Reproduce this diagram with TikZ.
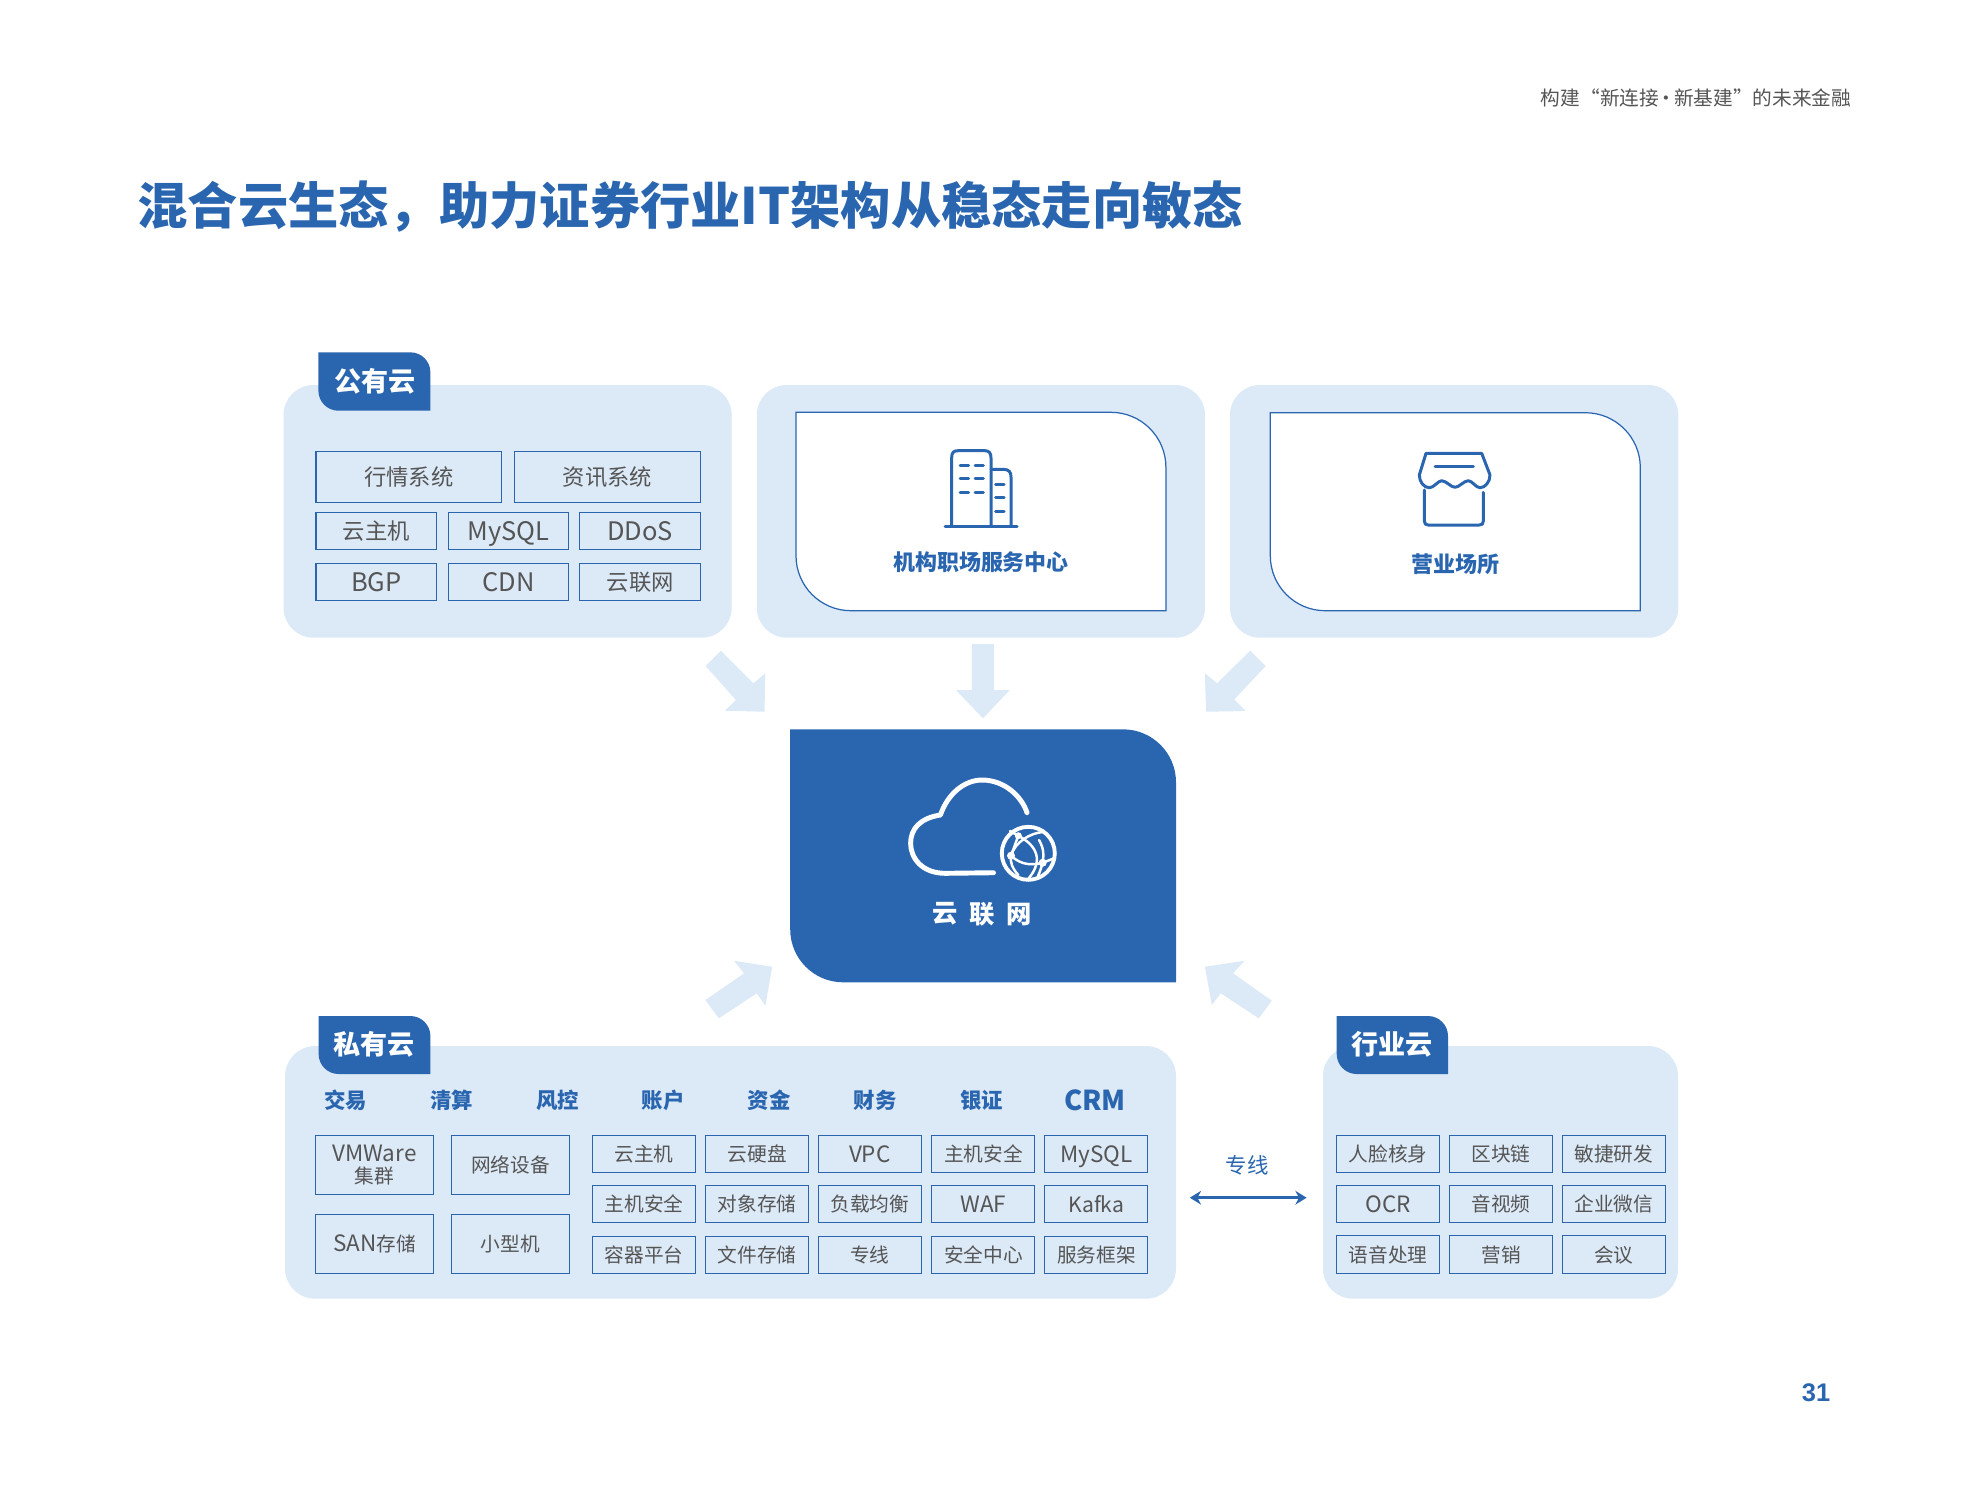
\documentclass[tikz,border=0pt]{standalone}
\usepackage{fontspec}
\setmainfont{Noto Sans CJK SC}
\newfontfamily\numfont{Liberation Sans}
\usetikzlibrary{arrows.meta}
\definecolor{cloudblue}{HTML}{2A66B0}
\definecolor{paleblue}{HTML}{DCE9F7}
\definecolor{cellgray}{HTML}{555555}
\tikzset{
  panel/.style={fill=paleblue,draw=none,rounded corners=0.3cm},
  blockarrow/.style={fill=paleblue,draw=none},
  tabshape/.style={fill=cloudblue,draw=none},
  cardshape/.style={fill=white,draw=cloudblue,line width=0.35pt},
  iconline/.style={draw=cloudblue,line width=0.85pt,line cap=round,line join=round},
  cloudline/.style={draw=white,line width=1.4pt,line cap=round,line join=round},
  globeline/.style={draw=white,line width=0.7pt,line cap=round},
  tabtext/.style={font=\bfseries\fontsize{7.7}{9}\selectfont,text=white,inner sep=0pt},
  cardtext/.style={font=\bfseries\fontsize{6.25}{8}\selectfont,text=cloudblue,inner sep=0pt},
  headtext/.style={font=\bfseries\fontsize{6.1}{8}\selectfont,text=cloudblue,inner sep=0pt},
  ccntext/.style={font=\bfseries\fontsize{7.2}{8}\selectfont,text=white,inner sep=0pt},
  cellbox/.style={draw=cloudblue,line width=0.32pt,inner sep=0pt,align=center,text=cellgray,
    font=\fontsize{5.6}{6.35}\selectfont,minimum height=0.374cm,minimum width=1.03cm,
    text height=4.93pt,text depth=0.67pt},
  celllatin/.style={cellbox,font=\fontsize{6.4}{7}\selectfont,text height=5.6pt,text depth=0.9pt},
  widebox/.style={cellbox,font=\fontsize{6.35}{7}\selectfont,minimum width=1.206cm,text height=5.59pt,text depth=0.76pt},
  widelatin/.style={widebox,font=\fontsize{7.25}{8}\selectfont,text height=6.4pt,text depth=1.1pt},
  bigbox/.style={cellbox,minimum width=1.184cm,minimum height=0.594cm},
}
\begin{document}
\begin{tikzpicture}[x=1cm,y=-1cm]
\useasboundingbox (0,0) rectangle (19.69,14.97);
\node[font=\fontsize{5.6}{7}\selectfont,text=cellgray,anchor=east,inner sep=0pt] (pagehead) at (18.52,0.98) {构建“新连接\hspace{-0.65pt}·\hspace{-0.65pt}新基建”的未来金融};
\node[font=\bfseries\fontsize{14.3}{17}\selectfont,text=cloudblue,anchor=west,inner sep=0pt] (pagetitle) at (1.37,2.07) {混合云生态\char"FF0C 助力证券行业IT架构从稳态走向敏态};
\node[font=\numfont\bfseries\fontsize{7.25}{9}\selectfont,text=cloudblue,inner sep=0pt] (pagenum) at (18.16,13.93) {31};

\fill[panel] (2.835,3.85) rectangle (7.317,6.377);
\fill[panel] (7.568,3.85) rectangle (12.05,6.377);
\fill[panel] (12.30,3.85) rectangle (16.783,6.377);
\fill[panel] (2.851,10.46) rectangle (11.76,12.987);
\fill[panel] (13.23,10.46) rectangle (16.78,12.987);

\fill[tabshape] (3.184,3.523) -- (4.104,3.523) arc[start angle=-90,end angle=0,radius=0.2] -- (4.304,4.107) -- (3.384,4.107) arc[start angle=90,end angle=180,radius=0.2] -- cycle;
\node[tabtext] (pubtab) at (3.747,3.81) {公有云};
\fill[tabshape] (3.186,10.16) -- (4.104,10.16) arc[start angle=-90,end angle=0,radius=0.2] -- (4.304,10.74) -- (3.386,10.74) arc[start angle=90,end angle=180,radius=0.2] -- cycle;
\node[tabtext] (pritab) at (3.74,10.44) {私有云};
\fill[tabshape] (13.367,10.16) -- (14.28,10.16) arc[start angle=-90,end angle=0,radius=0.2] -- (14.48,10.74) -- (13.567,10.74) arc[start angle=90,end angle=180,radius=0.2] -- cycle;
\node[tabtext] (indtab) at (13.92,10.44) {行业云};

\node[widebox,minimum width=1.855cm,minimum height=0.514cm] (quote) at (4.088,4.77) {行情系统};
\node[widebox,minimum width=1.862cm,minimum height=0.514cm] (news) at (6.074,4.77) {资讯系统};
\node[widebox] (pubhost) at (3.763,5.31) {云主机};
\node[widelatin] (pubsql) at (5.085,5.31) {MySQL};
\node[widelatin] (pubddos) at (6.402,5.31) {DDoS};
\node[widelatin] (pubbgp) at (3.763,5.82) {BGP};
\node[widelatin] (pubcdn) at (5.085,5.82) {CDN};
\node[widebox] (pubccn) at (6.402,5.82) {云联网};

\draw[cardshape] (7.96,4.123) -- (11.109,4.123) arc[start angle=-90,end angle=0,radius=0.55] -- (11.659,6.107) -- (8.51,6.107) arc[start angle=90,end angle=180,radius=0.55] -- cycle;
\draw[iconline] (9.516,5.26) -- (9.516,4.58) .. controls (9.516,4.52) and (9.54,4.507) .. (9.58,4.507) -- (9.85,4.507) .. controls (9.89,4.507) and (9.91,4.53) .. (9.91,4.58) -- (9.91,5.26);
\draw[iconline] (9.91,4.693) -- (10.03,4.693) .. controls (10.09,4.693) and (10.11,4.72) .. (10.11,4.77) -- (10.11,5.26);
\draw[iconline] (9.45,5.267) -- (10.17,5.267);
\draw[iconline] (9.60,4.653) -- (9.685,4.653) (9.75,4.653) -- (9.834,4.653);
\draw[iconline] (9.60,4.783) -- (9.685,4.783) (9.75,4.783) -- (9.834,4.783);
\draw[iconline] (9.60,4.923) -- (9.685,4.923) (9.75,4.923) -- (9.834,4.923);
\draw[iconline] (9.957,4.843) -- (10.042,4.843);
\draw[iconline] (9.957,4.973) -- (10.042,4.973);
\draw[iconline] (9.957,5.113) -- (10.042,5.113);
\node[cardtext] (branch) at (9.81,5.617) {机构职场服务中心};

\draw[cardshape] (12.703,4.127) -- (15.853,4.127) arc[start angle=-90,end angle=0,radius=0.55] -- (16.403,6.107) -- (13.253,6.107) arc[start angle=90,end angle=180,radius=0.55] -- cycle;
\draw[iconline] (14.26,4.533) -- (14.817,4.533) -- (14.90,4.75) .. controls (14.90,4.82) and (14.85,4.877) .. (14.80,4.877) .. controls (14.76,4.877) and (14.72,4.807) .. (14.683,4.807) .. controls (14.64,4.807) and (14.59,4.873) .. (14.55,4.873) .. controls (14.51,4.873) and (14.46,4.807) .. (14.417,4.807) .. controls (14.38,4.807) and (14.34,4.877) .. (14.293,4.877) .. controls (14.24,4.877) and (14.193,4.82) .. (14.193,4.75) -- cycle;
\draw[iconline] (14.35,4.663) -- (14.733,4.663);
\draw[iconline] (14.243,4.90) -- (14.243,5.21) .. controls (14.243,5.24) and (14.26,5.25) .. (14.283,5.25) -- (14.793,5.25) .. controls (14.82,5.25) and (14.833,5.24) .. (14.833,5.21) -- (14.833,4.923);
\node[cardtext] (office) at (14.555,5.643) {营业场所};

\fill[blockarrow] (7.208,6.507) -- (7.535,6.833) -- (7.653,6.733) -- (7.645,7.117) -- (7.249,7.107) -- (7.359,7.00) -- (7.057,6.66) -- cycle;
\fill[blockarrow] (9.718,6.44) -- (9.939,6.44) -- (9.939,6.90) -- (10.098,6.90) -- (9.829,7.183) -- (9.559,6.90) -- (9.718,6.90) -- cycle;
\fill[blockarrow] (12.502,6.507) -- (12.657,6.66) -- (12.343,6.993) -- (12.457,7.11) -- (12.061,7.117) -- (12.049,6.733) -- (12.171,6.833) -- cycle;
\fill[blockarrow] (7.188,10.183) -- (7.053,10.00) -- (7.441,9.733) -- (7.339,9.607) -- (7.722,9.667) -- (7.653,10.057) -- (7.567,9.933) -- cycle;
\fill[blockarrow] (12.588,10.183) -- (12.718,10.007) -- (12.331,9.733) -- (12.445,9.607) -- (12.049,9.667) -- (12.118,10.05) -- (12.208,9.933) -- cycle;

\fill[cloudblue] (7.902,7.293) -- (11.23,7.293) arc[start angle=-90,end angle=0,radius=0.53] -- (11.76,9.823) -- (8.432,9.823) arc[start angle=90,end angle=180,radius=0.53] -- cycle;
\draw[cloudline] (9.935,8.727) -- (9.453,8.733) .. controls (9.22,8.733) and (9.106,8.58) .. (9.106,8.433) .. controls (9.106,8.29) and (9.2,8.18) .. (9.404,8.15) .. controls (9.48,7.93) and (9.65,7.80) .. (9.82,7.80) .. controls (10.05,7.80) and (10.22,7.97) .. (10.27,8.127);
\draw[draw=white,line width=1.1pt] (10.283,8.533) circle[radius=0.265];
\draw[globeline] (10.183,8.357) .. controls (10.36,8.45) and (10.45,8.60) .. (10.273,8.80);
\draw[globeline] (10.11,8.557) .. controls (10.15,8.42) and (10.30,8.33) .. (10.43,8.32);
\draw[globeline] (10.11,8.557) .. controls (10.22,8.66) and (10.33,8.65) .. (10.427,8.627);
\draw[globeline] (10.11,8.557) .. controls (10.10,8.62) and (10.12,8.68) .. (10.183,8.75);
\draw[globeline] (10.183,8.357) -- (10.11,8.557);
\draw[globeline] (10.427,8.627) -- (10.54,8.583);
\draw[globeline] (10.183,8.357) -- (10.10,8.31);
\draw[globeline] (10.39,8.40) .. controls (10.45,8.50) and (10.45,8.60) .. (10.38,8.76);
\fill[white] (10.183,8.357) circle[radius=0.035] (10.11,8.557) circle[radius=0.04] (10.427,8.627) circle[radius=0.04];
\node[ccntext] (ccnyun) at (9.453,9.14) {云};
\node[ccntext] (ccnlian) at (9.82,9.14) {联};
\node[ccntext] (ccnwang) at (10.188,9.14) {网};

\node[headtext] (trade) at (3.455,11.007) {交易};
\node[headtext] (clear) at (4.516,11.007) {清算};
\node[headtext] (risk) at (5.578,11.007) {风控};
\node[headtext] (account) at (6.63,11.007) {账户};
\node[headtext] (fund) at (7.69,11.007) {资金};
\node[headtext] (finance) at (8.75,11.007) {财务};
\node[headtext] (bank) at (9.816,11.007) {银证};
\node[headtext,font=\bfseries\fontsize{7.8}{9}\selectfont] (crm) at (10.949,11.007) {CRM};

\node[bigbox,text height=,text depth=] (vmware) at (3.745,11.65) {{\fontsize{6.4}{6.35}\selectfont VMWare}\\集群};
\node[bigbox] (netdev) at (5.104,11.65) {网络设备};
\node[bigbox] (san) at (3.745,12.44) {{\fontsize{6.4}{6.35}\selectfont SAN}存储};
\node[bigbox] (minicomp) at (5.104,12.44) {小型机};

\node[cellbox] (prihost) at (6.44,11.54) {云主机};
\node[cellbox] (pridisk) at (7.572,11.54) {云硬盘};
\node[celllatin] (vpc) at (8.698,11.54) {VPC};
\node[cellbox] (prisafe) at (9.834,11.54) {主机安全};
\node[celllatin] (prisql) at (10.964,11.54) {MySQL};
\node[cellbox] (hostsafe) at (6.44,12.04) {主机安全};
\node[cellbox] (objstore) at (7.572,12.04) {对象存储};
\node[cellbox] (balance) at (8.698,12.04) {负载均衡};
\node[celllatin] (waf) at (9.834,12.04) {WAF};
\node[celllatin,font=\fontsize{6}{7}\selectfont] (kafka) at (10.964,12.04) {Kafka};
\node[cellbox] (container) at (6.44,12.55) {容器平台};
\node[cellbox] (filestore) at (7.572,12.55) {文件存储};
\node[cellbox] (privline) at (8.698,12.55) {专线};
\node[cellbox] (safecenter) at (9.834,12.55) {安全中心};
\node[cellbox] (framework) at (10.964,12.55) {服务框架};

\node[cellbox] (faceid) at (13.88,11.54) {人脸核身};
\node[cellbox] (chain) at (15.01,11.54) {区块链};
\node[cellbox] (agile) at (16.137,11.54) {敏捷研发};
\node[celllatin] (ocr) at (13.88,12.04) {OCR};
\node[cellbox] (media) at (15.01,12.04) {音视频};
\node[cellbox] (wecom) at (16.137,12.04) {企业微信};
\node[cellbox] (speech) at (13.88,12.545) {语音处理};
\node[cellbox] (market) at (15.01,12.545) {营销};
\node[cellbox] (meeting) at (16.137,12.545) {会议};

\node[font=\fontsize{6.1}{8}\selectfont,text=cloudblue,inner sep=0pt] (linetext) at (12.47,11.65) {专线};
\coordinate (lineleft) at (11.898,11.977);
\coordinate (lineright) at (13.066,11.977);
\draw[{Stealth[length=3.2pt,width=3.9pt]}-{Stealth[length=3.2pt,width=3.9pt]},draw=cloudblue,fill=cloudblue,line width=0.75pt] (lineleft) -- (lineright);
\end{tikzpicture}
\end{document}
